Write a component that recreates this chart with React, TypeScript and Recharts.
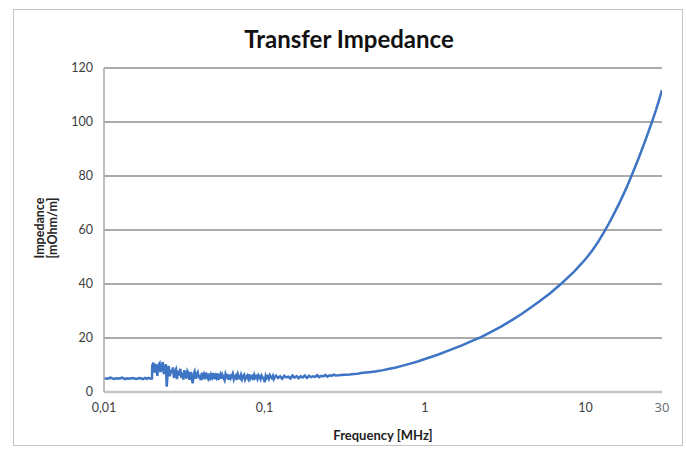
import { LineChart, Line, XAxis, YAxis, CartesianGrid, Label } from 'recharts';

// frequency in MHz (log axis) and measured transfer impedance in mOhm/m
const freqMHz = [
  0.01, 0.0105, 0.011, 0.0115, 0.012, 0.0125, 0.013, 0.0135, 0.014, 0.0145,
  0.015, 0.0155, 0.016, 0.0165, 0.017, 0.0175, 0.018, 0.0185, 0.019, 0.0195, 0.0199,
  0.02, 0.0203, 0.0206, 0.0209, 0.0212, 0.0215, 0.0218, 0.0222, 0.0225, 0.0229,
  0.0232, 0.0236, 0.0239, 0.0243, 0.0246, 0.025, 0.0253, 0.0257, 0.0261, 0.0265,
  0.0269, 0.0273, 0.0277, 0.0281, 0.0285, 0.029, 0.0294, 0.0299, 0.0303, 0.0308,
  0.0312, 0.0317, 0.0321, 0.0326, 0.0331, 0.0336, 0.0341, 0.0346, 0.0351, 0.0357,
  0.0362, 0.0367, 0.0372, 0.0378, 0.0384, 0.039, 0.0395, 0.0401, 0.0407, 0.0413,
  0.0419, 0.0426, 0.0432, 0.0438, 0.0445, 0.0452, 0.0458, 0.0465, 0.0472, 0.0479,
  0.0486, 0.0494, 0.0501, 0.0509, 0.0516, 0.0524, 0.0531, 0.0539, 0.0547, 0.0556,
  0.0564, 0.0572, 0.0581, 0.059, 0.0598, 0.0607, 0.0616, 0.0625, 0.0634, 0.0644,
  0.0653, 0.0663, 0.0673, 0.0683, 0.0693, 0.0704, 0.0714, 0.0725, 0.0735, 0.0746,
  0.0757, 0.0769, 0.078, 0.0792, 0.0803, 0.0815, 0.0827, 0.084, 0.0852, 0.0865,
  0.0878, 0.0891, 0.0904, 0.0918, 0.0931, 0.0945, 0.0959, 0.0973, 0.0988, 0.1003,
  0.1018, 0.1033, 0.1048, 0.1064, 0.108, 0.1096, 0.1112, 0.1129, 0.1145, 0.1163,
  0.118, 0.1215, 0.1252, 0.1289, 0.1328, 0.1368, 0.1409, 0.1451, 0.1494, 0.1539,
  0.1585, 0.1633, 0.1682, 0.1732, 0.1784, 0.1838, 0.1893, 0.195, 0.2008, 0.2068,
  0.213, 0.2194, 0.226, 0.2328, 0.2398, 0.247, 0.2544, 0.262, 0.2699, 0.278,
  0.29, 0.3, 0.32, 0.34, 0.36, 0.38, 0.4, 0.43, 0.46, 0.5, 0.55, 0.6, 0.65, 0.7,
  0.8, 0.9, 1.0, 1.2, 1.4, 1.7, 2.0, 2.17, 2.5, 3.0, 3.5, 4.0, 4.5, 5.13, 6.0, 7.0,
  7.5, 8.5, 9.5, 10.2, 11.0, 12.0, 13.0, 14.0, 15.0, 16.5, 18.0, 19.2, 21.0, 22.5,
  24.0, 25.9, 27.5, 29.0, 30.0,
];

const impedance = [
  5.1, 4.9, 5.3, 4.8, 5.1, 5.0, 5.3, 4.8, 5.1, 4.9,
  5.2, 5.0, 4.8, 5.2, 5.1, 4.8, 5.2, 4.9, 5.2, 4.9, 5.0,
  9.8, 10.9, 7.2, 10.4, 8.6, 6.0, 9.9, 10.6, 7.4, 9.2,
  11.1, 6.6, 8.9, 10.3, 2.0, 8.4, 9.6, 5.8, 8.2, 7.0,
  9.1, 5.2, 7.6, 8.4, 4.8, 7.9, 6.1, 8.6, 5.3, 7.2,
  4.6, 8.1, 6.4, 5.0, 7.7, 6.9, 4.5, 7.4, 5.6, 3.2,
  6.8, 7.6, 4.9, 6.5, 7.3, 5.1, 6.2, 4.4, 7.1, 5.7,
  6.6, 4.7, 7.2, 5.9, 5.0, 6.8, 4.3, 6.4, 5.5, 7.0,
  4.8, 6.1, 5.3, 6.9, 4.5, 5.8, 6.6, 4.9, 6.3, 5.2,
  4.4, 6.7, 5.6, 6.0, 4.6, 6.4, 5.1, 5.9, 6.8, 4.7,
  5.7, 6.2, 4.5, 6.5, 5.4, 5.0, 6.3, 4.8, 5.9, 6.4,
  4.6, 5.5, 6.1, 5.0, 6.6, 4.9, 5.7, 6.0, 4.4, 6.3,
  5.3, 5.8, 4.8, 6.2, 5.6, 4.7, 6.1, 5.4, 5.0, 3.6,
  6.0, 5.2, 5.8, 4.9, 6.2, 5.5, 5.1, 6.0, 4.8, 5.7,
  6.1, 5.2, 5.8, 4.9, 6.0, 5.4, 5.7, 5.0, 6.1, 5.3,
  5.9, 5.1, 5.8, 5.4, 6.1, 5.2, 6.0, 5.5, 5.8, 5.6,
  6.2, 5.5, 6.0, 5.8, 6.3, 5.7, 6.2, 6.0, 6.4, 6.1,
  6.2, 6.3, 6.4, 6.5, 6.7, 6.8, 7.0, 7.2, 7.4, 7.7, 8.1, 8.6, 9.0, 9.5,
  10.4, 11.3, 12.2, 13.8, 15.3, 17.3, 19.1, 20.0, 21.8, 24.3, 26.7, 28.9, 31.0, 33.4, 36.5, 39.9,
  41.5, 44.6, 47.7, 49.8, 52.3, 55.6, 59.0, 62.4, 65.8, 70.7, 75.6, 79.5, 85.2, 89.8,
  94.3, 99.8, 104.4, 108.8, 111.8,
];

const xTicks = [0.01, 0.1, 1, 10, 30];
const yTicks = [0, 20, 40, 60, 80, 100, 120];

const data = freqMHz.map((f, i) => ({ f, z: impedance[i] }));

const font = 'Lato, "Open Sans", sans-serif';

const XTick = ({ x, y, payload }: any) => {
  if (payload.value === 30) {
    return (
      <text x={x} y={y + 12} textAnchor="middle" fontSize={13} fill="#6b6b6b" fontFamily='"Open Sans", sans-serif'>
        30
      </text>
    );
  }
  return (
    <text x={x} y={y + 12} textAnchor="middle" fontSize={12.5} fill="#404040" fontFamily={font}>
      {String(payload.value).replace('.', ',')}
    </text>
  );
};

const YTitle = () => (
  <g transform="translate(47, 228) rotate(-90)">
    <text x={0} y={-3} textAnchor="middle" fontSize={12.5} fontWeight="bold" fill="#222" fontFamily={font}>
      Impedance
    </text>
    <text x={0} y={10} textAnchor="middle" fontSize={12.5} fontWeight="bold" fill="#222" fontFamily={font}>
      [mOhm/m]
    </text>
  </g>
);

export default function App() {
  return (
    <div style={{ position: 'absolute', left: 0, top: 0, width: 686, height: 452, background: '#fff' }}>
      <div
        style={{
          position: 'absolute', left: 13, top: 9, width: 670, height: 437,
          border: '1px solid #c4c4c4', boxSizing: 'border-box',
        }}
      />
      <div
        style={{
          position: 'absolute', left: 0, top: 24, width: 698, textAlign: 'center',
          fontFamily: font, fontWeight: 'bold', fontSize: 24, color: '#111',
        }}
      >
        Transfer Impedance
      </div>
      <div style={{ position: 'absolute', left: 0, top: 0 }}>
        <LineChart width={686} height={452} data={data} margin={{ top: 68, right: 24, bottom: 0, left: 0 }}>
          <CartesianGrid vertical={false} stroke="#8f8f8f" strokeWidth={1.5} />
          <XAxis
            dataKey="f"
            type="number"
            scale="log"
            domain={[0.01, 30]}
            ticks={xTicks}
            allowDataOverflow
            height={60}
            axisLine={{ stroke: '#c6c6c6', strokeWidth: 2.5 }}
            tickLine={false}
            tick={<XTick />}
            interval={0}
          >
            <Label
              value="Frequency [MHz]"
              position="insideBottom"
              offset={12}
              style={{ fontSize: 13, fontWeight: 'bold', fill: '#222', fontFamily: font }}
            />
          </XAxis>
          <YAxis
            domain={[0, 120]}
            ticks={yTicks}
            width={104}
            axisLine={{ stroke: '#a8a8a8', strokeWidth: 1.5 }}
            tickLine={false}
            tickMargin={5}
            tick={{ fontSize: 12.5, fill: '#404040', fontFamily: font }}
          >
            <Label content={<YTitle />} />
          </YAxis>
          <Line
            type="linear"
            dataKey="z"
            stroke="#3d74c4"
            strokeWidth={2.5}
            dot={false}
            isAnimationActive={false}
          />
        </LineChart>
      </div>
    </div>
  );
}
